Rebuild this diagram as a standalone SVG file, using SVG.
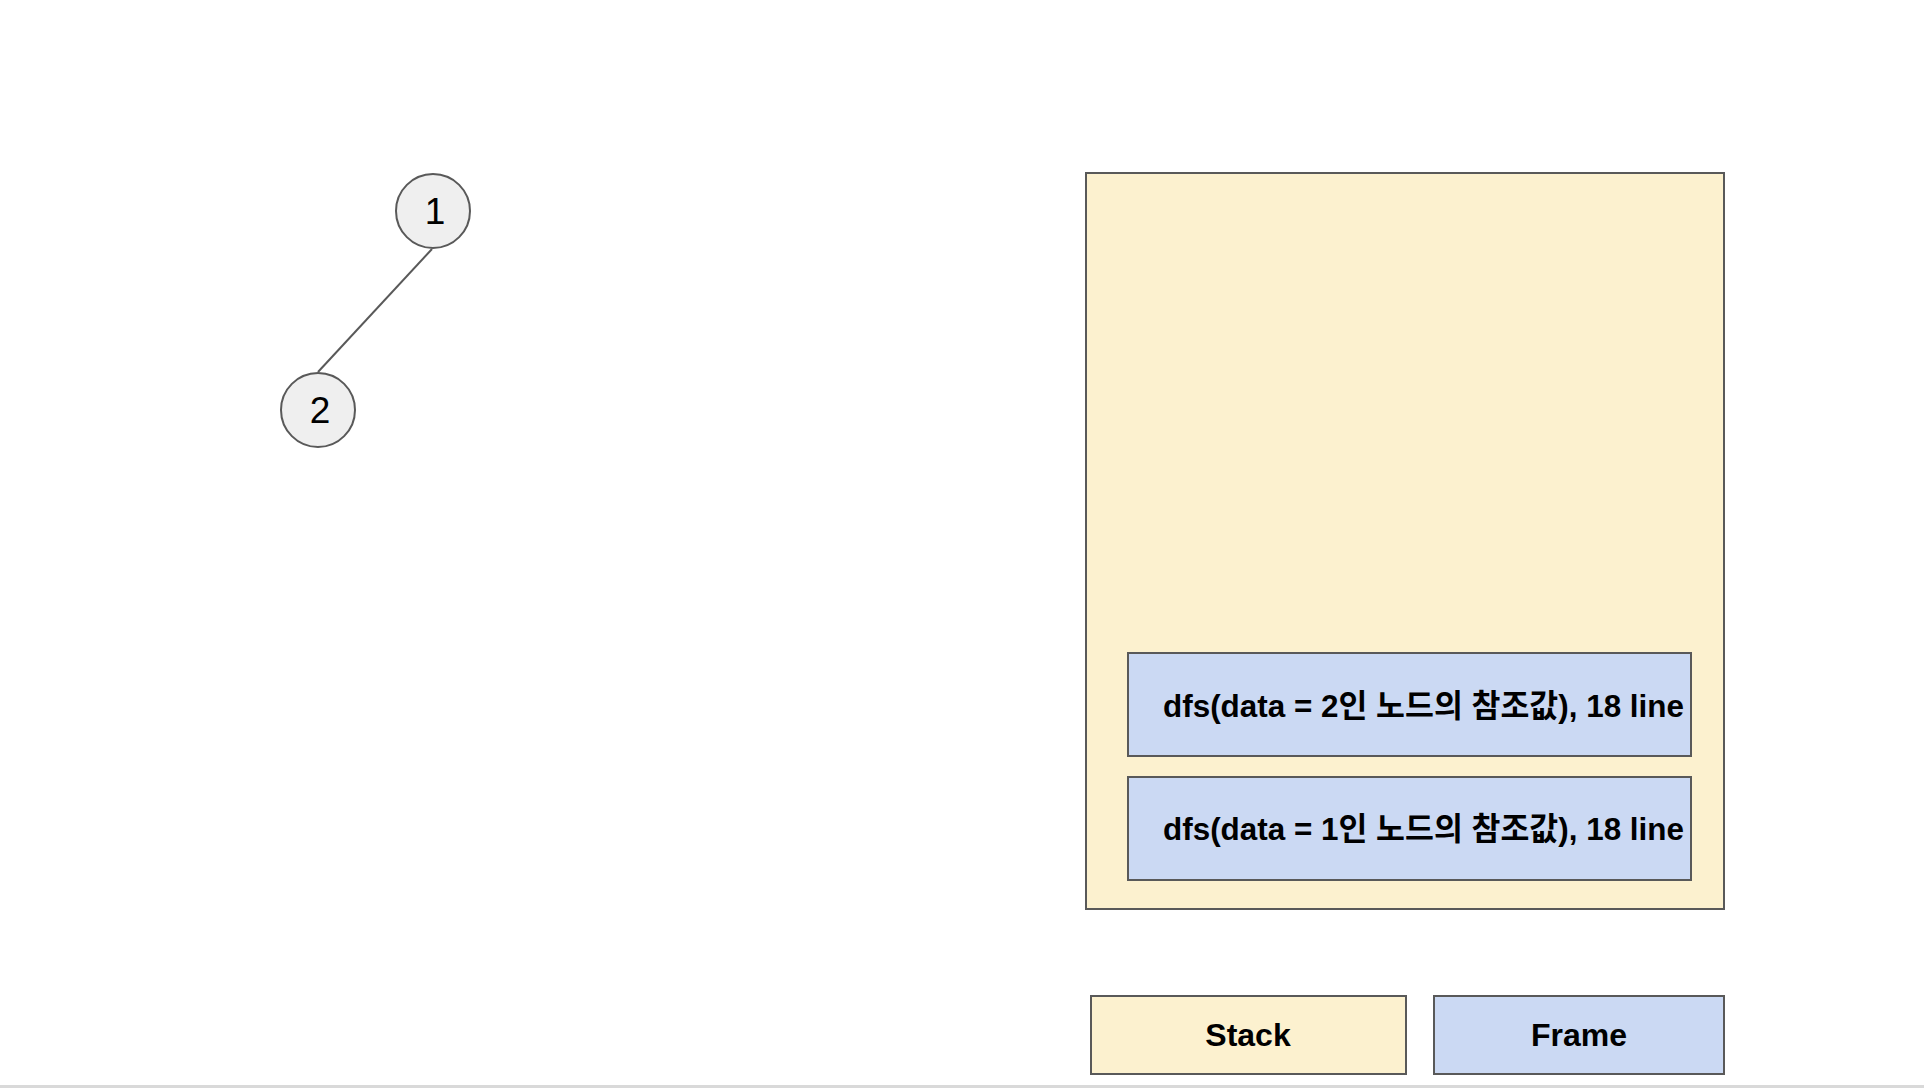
<svg xmlns="http://www.w3.org/2000/svg" width="1924" height="1088" viewBox="0 0 1924 1088">
<style>
.node{fill:#efefef;stroke:#595959;stroke-width:2}
.num{font-family:"Liberation Sans",Arial,sans-serif;font-size:37px;fill:#000;text-anchor:middle}
.stack{fill:#fcf1cf;stroke:#595959;stroke-width:2}
.frame{fill:#cbd9f3;stroke:#595959;stroke-width:2}
.lbl{font-family:"Liberation Sans","Noto Sans CJK KR",Arial,sans-serif;font-size:32px;font-weight:bold;fill:#000}
.edge{stroke:#595959;stroke-width:2;fill:none}
</style>
<rect width="1924" height="1088" fill="#ffffff"/>
<line x1="0" y1="1086.5" x2="1924" y2="1086.5" stroke="#d9d9d9" stroke-width="3"/>
<g id="connectors">
<line class="edge" x1="432" y1="249" x2="318" y2="372"/>
</g>
<g id="node-1">
<circle class="node" cx="433" cy="211" r="37"/>
<text class="num" x="435" y="224">1</text>
</g>
<g id="node-2">
<circle class="node" cx="318" cy="410" r="37"/>
<text class="num" x="320" y="423">2</text>
</g>
<g id="stack">
<rect class="stack" x="1086" y="173" width="638" height="736"/>
</g>
<g id="frame-2">
<rect class="frame" x="1128" y="653" width="563" height="103"/>
<text class="lbl" x="1163" y="717" textLength="521" lengthAdjust="spacingAndGlyphs">dfs(data = 2인 노드의 참조값), 18 line</text>
</g>
<g id="frame-1">
<rect class="frame" x="1128" y="777" width="563" height="103"/>
<text class="lbl" x="1163" y="840" textLength="521" lengthAdjust="spacingAndGlyphs">dfs(data = 1인 노드의 참조값), 18 line</text>
</g>
<g id="legend-stack">
<rect class="stack" x="1091" y="996" width="315" height="78"/>
<text class="lbl" x="1248" y="1046" text-anchor="middle">Stack</text>
</g>
<g id="legend-frame">
<rect class="frame" x="1434" y="996" width="290" height="78"/>
<text class="lbl" x="1579" y="1046" text-anchor="middle">Frame</text>
</g>
</svg>
